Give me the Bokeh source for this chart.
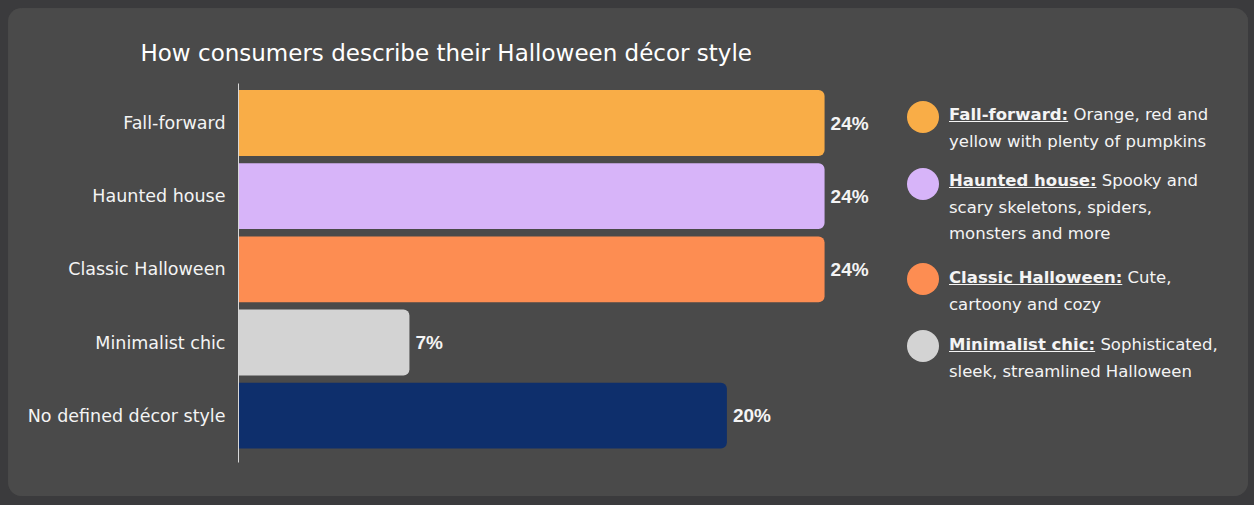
from bokeh.plotting import figure
from bokeh.models import ColumnDataSource, Range1d, FixedTicker, Div
from bokeh.layouts import row
from bokeh.core.properties import value
from bokeh.embed import file_html
from bokeh.resources import INLINE

# ---- data ----
categories = ["Fall-forward", "Haunted house", "Classic Halloween", "Minimalist chic", "No defined décor style"]
values = [24, 24, 24, 7, 20]
colors = ["#F9AD47", "#D7B4F9", "#FD8D52", "#D3D3D3", "#0E2F6C"]
legend_titles = ["Fall-forward:", "Haunted house:", "Classic Halloween:", "Minimalist chic:"]
legend_lines = [
    ["Orange, red and", "yellow with plenty of pumpkins"],
    ["Spooky and", "scary skeletons, spiders,", "monsters and more"],
    ["Cute,", "cartoony and cozy"],
    ["Sophisticated,", "sleek, streamlined Halloween"],
]
title_text = "How consumers describe their Halloween décor style"

PANEL = "#4a4a4a"
OUTER = "#3b3b3d"
TEXT = "#f4f4f4"
FONT = "DejaVu Sans"

ypos = list(range(len(categories) - 1, -1, -1))
src = ColumnDataSource(dict(
    y=ypos, v=values, color=colors, cat=categories,
    label=[f"{v}%" for v in values],
))

p = figure(width=882, height=488, output_backend="svg", toolbar_location=None,
           x_range=Range1d(0, 26.7), y_range=Range1d(-0.64, 4.54),
           min_border_left=230, min_border_right=0, min_border_top=75, min_border_bottom=34)
p.background_fill_color = PANEL
p.border_fill_color = PANEL
p.outline_line_color = None
p.grid.visible = False
p.xaxis.visible = False

p.hbar(y="y", left=0, right="v", height=0.9, fill_color="color", line_color=None,
       border_radius=(0, 6, 6, 0), source=src)
p.text(x="v", y="y", text="label", x_offset=6, text_baseline="middle", text_align="left",
       text_color=TEXT, text_font=value("Liberation Sans"), text_font_style="bold",
       text_font_size="19px", source=src)

yax = p.yaxis[0]
yax.ticker = FixedTicker(ticks=ypos)
yax.major_label_overrides = {y: c for y, c in zip(ypos, categories)}
yax.major_tick_line_color = None
yax.minor_tick_line_color = None
yax.axis_line_color = "#d8d8d8"
yax.axis_line_width = 1
yax.major_label_text_color = TEXT
yax.major_label_text_font = FONT
yax.major_label_text_font_size = "17.5px"
yax.major_label_standoff = 7

p.title.text = title_text
p.title.text_color = "#ffffff"
p.title.text_font = FONT
p.title.text_font_size = "23px"
p.title.text_font_style = "normal"
p.title.align = "left"
p.title.offset = -98
p.title.standoff = 35

# legend (HTML so the heading can be bold + underlined)
circle_tops = [88, 155, 250, 317]
text_tops = [89, 155, 252, 319]
parts = []
for ct, tt, head, lines, col in zip(circle_tops, text_tops, legend_titles, legend_lines, colors):
    parts.append(
        f'<div style="position:absolute;left:12px;top:{ct}px;width:32px;height:32px;'
        f'border-radius:50%;background:{col};"></div>'
    )
    body = "<br>".join(lines)
    parts.append(
        f'<div style="position:absolute;left:54px;top:{tt}px;line-height:26.6px;'
        f'font-size:16.5px;color:{TEXT};font-family:\'{FONT}\';white-space:nowrap;">'
        f'<b style="text-decoration:underline;">{head}</b> {body}</div>'
    )
div = Div(text='<div style="position:relative;width:350px;height:480px;">' + "".join(parts) + "</div>",
          width=356, height=488)
div.styles = {"background-color": PANEL}

layout = row(p, div, width=1238, height=488, sizing_mode="fixed")
layout.styles = {"background-color": PANEL, "border-radius": "14px", "overflow": "hidden",
                 "width": "1240px", "height": "488px"}

html = file_html(layout, INLINE)
css = (f"<style>html, body {{ background-color: {OUTER} !important; }} "
       f"body {{ padding: 8px !important; }}</style>")
html = html.replace("</head>", css + "</head>", 1)
open("out.html", "w").write(html)
